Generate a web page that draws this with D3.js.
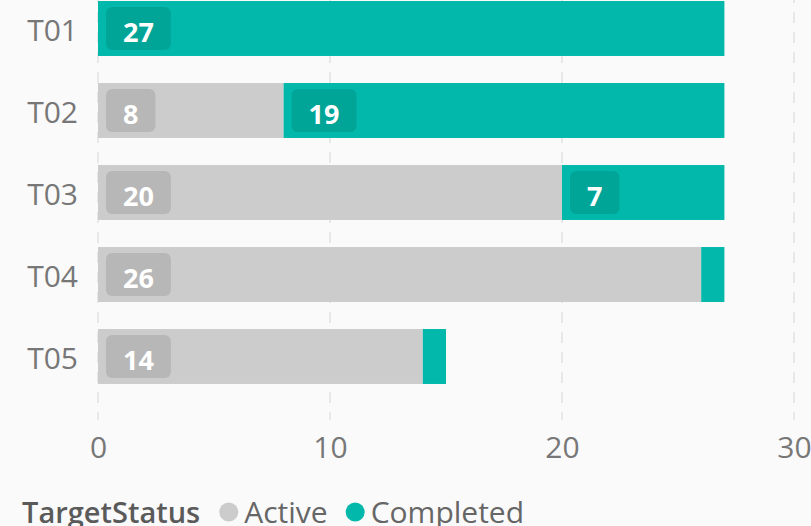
<!DOCTYPE html>
<html>
<head>
<meta charset="utf-8">
<script src="https://d3js.org/d3.v7.min.js"></script>
<style>
  html, body { margin: 0; padding: 0; background: #fafafa; }
  svg { display: block; font-family: "Open Sans", "Noto Sans", sans-serif; }
</style>
</head>
<body>
<svg width="811" height="526" class="bar-chart"></svg>
<script>
  // data
  const categories = ["T01", "T02", "T03", "T04", "T05"];
  const seriesNames = ["Active", "Completed"];
  const activeValues = [0, 8, 20, 26, 14];
  const completedValues = [27, 19, 7, 1, 1];
  const xTicks = [0, 10, 20, 30];
  const legendTitle = "TargetStatus";

  const colors = {Active: "#cccccc", Completed: "#01b8aa"};

  const svg = d3.select(".bar-chart");
  const width = +svg.attr("width");

  const rows = categories.map((c, i) => ({
    categ: c,
    Active: activeValues[i],
    Completed: completedValues[i]
  }));

  const xScale = d3.scaleLinear().domain([0, 30]).range([98, 794]);
  const yScale = d3.scaleBand()
    .domain(categories)
    .range([-12.5, 397.5])
    .paddingInner(0.33)
    .paddingOuter(0.165);

  svg.append("rect")
    .attr("width", width)
    .attr("height", 526)
    .attr("fill", "#fafafa");

  // dashed vertical gridlines
  svg.append("g")
    .selectAll("line")
    .data(xTicks)
    .enter().append("line")
    .attr("x1", d => xScale(d))
    .attr("x2", d => xScale(d))
    .attr("y1", 0)
    .attr("y2", 420)
    .attr("stroke", "#e8e8e8")
    .attr("stroke-width", 2)
    .attr("stroke-dasharray", "11,9")
    .attr("stroke-dashoffset", 8);

  // stacked bars
  const stacked = d3.stack().keys(seriesNames)(rows);

  const layers = svg.append("g")
    .selectAll("g")
    .data(stacked)
    .enter().append("g")
    .attr("fill", d => colors[d.key]);

  layers.selectAll("rect")
    .data(d => d)
    .enter().append("rect")
    .attr("x", d => xScale(d[0]))
    .attr("y", d => yScale(d.data.categ))
    .attr("width", d => xScale(d[1]) - xScale(d[0]))
    .attr("height", yScale.bandwidth());

  // value badges
  const badgeData = [];
  stacked.forEach(layer => {
    layer.forEach(d => {
      const v = d[1] - d[0];
      if (v > 0) badgeData.push({key: layer.key, categ: d.data.categ, x0: d[0], x1: d[1], v: v});
    });
  });

  const badges = svg.append("g")
    .selectAll("g")
    .data(badgeData)
    .enter().append("g")
    .attr("transform", d => "translate(" + (xScale(d.x0) + 8) + "," + (yScale(d.categ) + yScale.bandwidth() / 2) + ")");

  badges.append("rect").attr("class", "badge");
  badges.append("text")
    .attr("text-anchor", "middle")
    .attr("y", 13.5)
    .style("font-size", "27px")
    .style("font-weight", "bold")
    .style("fill", "#ffffff")
    .text(d => d.v);

  badges.each(function(d) {
    const g = d3.select(this);
    const tw = g.select("text").node().getComputedTextLength();
    const bw = tw + 34;
    const segW = xScale(d.x1) - xScale(d.x0);
    if (bw + 16 > segW) { g.remove(); return; }
    g.select("rect")
      .attr("x", 0)
      .attr("y", -21.5)
      .attr("width", bw)
      .attr("height", 43)
      .attr("rx", 6)
      .attr("fill", "#000")
      .attr("fill-opacity", 0.1);
    g.select("text").attr("x", bw / 2);
  });

  // category axis
  const yAxis = svg.append("g")
    .attr("transform", "translate(78,0)")
    .call(d3.axisLeft(yScale).tickSize(0).tickPadding(0));
  yAxis.select(".domain").remove();
  yAxis.selectAll("text")
    .attr("dy", null)
    .attr("y", 12)
    .style("font-size", "30px")
    .style("font-family", "'Open Sans', sans-serif")
    .style("fill", "#777777");

  // value axis
  const xAxis = svg.append("g")
    .attr("transform", "translate(0,458)")
    .call(d3.axisBottom(xScale).tickValues(xTicks).tickSize(0).tickPadding(0));
  xAxis.select(".domain").remove();
  xAxis.selectAll("text")
    .attr("dy", null)
    .attr("y", 0)
    .style("font-size", "30px")
    .style("font-family", "'Open Sans', sans-serif")
    .style("fill", "#777777");

  // legend
  const legend = svg.append("g").attr("transform", "translate(22,523)");
  const title = legend.append("text")
    .style("font-size", "29px")
    .style("font-weight", "600")
    .style("fill", "#5a5a5a")
    .text(legendTitle);
  let lx = title.node().getComputedTextLength() + 19;
  seriesNames.forEach(name => {
    legend.append("circle")
      .attr("cx", lx + 9.5)
      .attr("cy", -11)
      .attr("r", 9.5)
      .attr("fill", colors[name]);
    const t = legend.append("text")
      .attr("x", lx + 25)
      .style("font-size", "30px")
      .style("fill", "#666666")
      .text(name);
    lx += 25 + t.node().getComputedTextLength() + 18;
  });
</script>
</body>
</html>
